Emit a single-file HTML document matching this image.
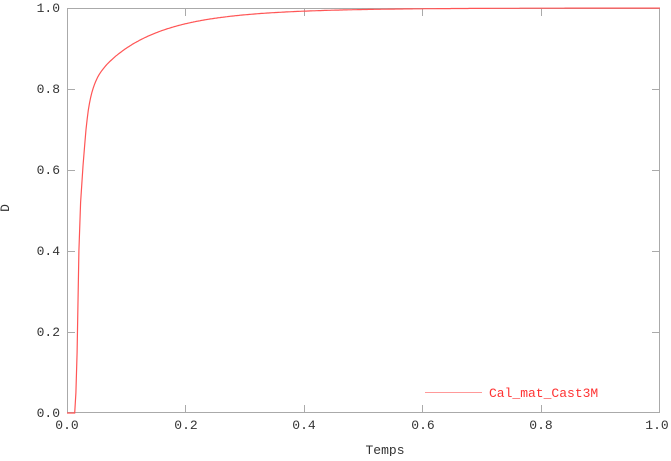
<!DOCTYPE html>
<html><head><style>body{margin:0;background:#fff}</style></head><body>
<svg width="671" height="456" xmlns="http://www.w3.org/2000/svg" font-family="Liberation Mono, monospace" font-size="13" fill="#333">
<rect width="671" height="456" fill="#fff"/>
<g stroke="#aaa" stroke-width="1" fill="none">
<rect x="67.5" y="8.5" width="592" height="404"/>
<path d="M185.5,413v-8M304.5,413v-8M422.5,413v-8M541.5,413v-8M185.5,8v8M304.5,8v8M422.5,8v8M541.5,8v8M67,332.5h8M67,251.5h8M67,170.5h8M67,89.5h8M660,332.5h-8M660,251.5h-8M660,170.5h-8M660,89.5h-8"/>
</g>
<g text-anchor="end">
<text x="60" y="417">0.0</text><text x="60" y="336">0.2</text><text x="60" y="255">0.4</text><text x="60" y="174">0.6</text><text x="60" y="93">0.8</text><text x="60" y="12">1.0</text>
</g>
<g text-anchor="middle">
<text x="67" y="429">0.0</text><text x="186" y="429">0.2</text><text x="304" y="429">0.4</text><text x="423" y="429">0.6</text><text x="541" y="429">0.8</text><text x="657" y="429">1.0</text>
<text x="385" y="454">Temps</text>
</g>
<text transform="translate(9,208) rotate(-90)" text-anchor="middle">D</text>
<line x1="425" y1="392.5" x2="482" y2="392.5" stroke="#f99" stroke-width="1"/>
<text x="489" y="397" fill="#f33">Cal_mat_Cast3M</text>
<polyline id="c" fill="none" stroke="#f55" stroke-width="1.2"/>
<script>
var p=[[0,0],[0.013,0],[0.015,0.05],[0.017,0.15],[0.02,0.4],[0.023,0.52],[0.027,0.61],[0.03,0.665]];
for(var t=0.032;t<=1.0001;t+=0.002){var s=t-0.032;p.push([t,1-(0.1*Math.exp(-s/0.008)+0.2*(0.6*Math.exp(-s/0.075)+0.4*Math.exp(-s/0.15)))]);}
document.getElementById('c').setAttribute('points',p.map(function(a){return (67+a[0]*593).toFixed(1)+','+(413-a[1]*405).toFixed(1)}).join(' '));
</script>
</svg>
</body></html>
